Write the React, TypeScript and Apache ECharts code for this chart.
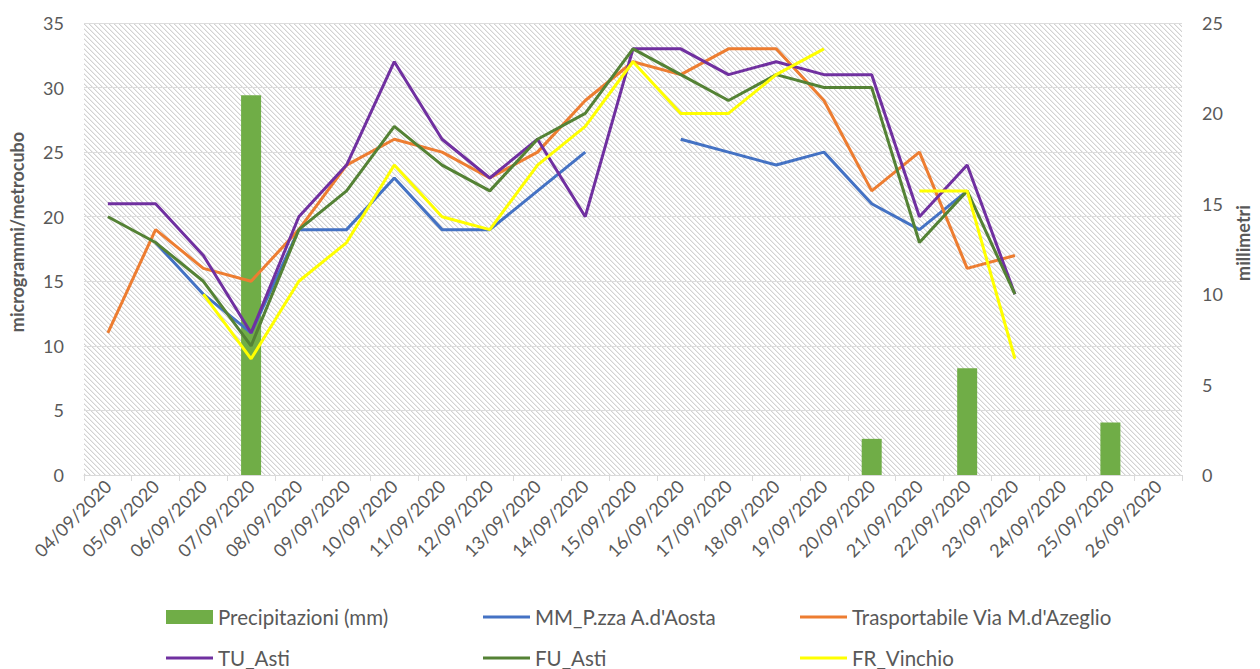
import React, { useEffect, useRef } from "react";
import * as echarts from "echarts";

const categories = [
  "04/09/2020", "05/09/2020", "06/09/2020", "07/09/2020", "08/09/2020", "09/09/2020",
  "10/09/2020", "11/09/2020", "12/09/2020", "13/09/2020", "14/09/2020", "15/09/2020",
  "16/09/2020", "17/09/2020", "18/09/2020", "19/09/2020", "20/09/2020", "21/09/2020",
  "22/09/2020", "23/09/2020", "24/09/2020", "25/09/2020", "26/09/2020",
];

const precipitazioni = [null, null, null, 21, null, null, null, null, null, null, null, null, null, null, null, null, 2, null, 5.9, null, null, 2.9, null];
const mmAosta = [null, 18, 14, 11, 19, 19, 23, 19, 19, 22, 25, null, 26, 25, 24, 25, 21, 19, 22, null, null, null, null];
const trasportabile = [11, 19, 16, 15, 19, 24, 26, 25, 23, 25, 29, 32, 31, 33, 33, 29, 22, 25, 16, 17, null, null, null];
const tuAsti = [21, 21, 17, 11, 20, 24, 32, 26, 23, 26, 20, 33, 33, 31, 32, 31, 31, 20, 24, 14, null, null, null];
const fuAsti = [20, 18, 15, 10, 19, 22, 27, 24, 22, 26, 28, 33, 31, 29, 31, 30, 30, 18, 22, 14, null, null, null];
const frVinchio = [null, null, 14, 9, 15, 18, 24, 20, 19, 24, 27, 32, 28, 28, 31, 33, null, 22, 22, 9, null, null, null];

const leftTicks = { min: 0, max: 35, interval: 5 };
const rightTicks = { min: 0, max: 25, interval: 5 };

function makePattern() {
  const size = 5;
  const c = document.createElement("canvas");
  c.width = size;
  c.height = size;
  const ctx = c.getContext("2d")!;
  ctx.fillStyle = "#ffffff";
  ctx.fillRect(0, 0, size, size);
  for (let i = 0; i < size; i++) {
    ctx.fillStyle = "#d2d2d2";
    ctx.fillRect(i, i, 1, 1);
    ctx.fillStyle = "#ececec";
    ctx.fillRect((i + 1) % size, i, 1, 1);
  }
  return { image: c, repeat: "repeat" };
}

export default function App() {
  const ref = useRef<HTMLDivElement>(null);
  useEffect(() => {
    if (!ref.current) return;
    const chart = echarts.init(ref.current, null, { renderer: "svg" });
    const textColor = "#595959";
    const font = "Lato";
    const lineSeries = (name: string, data: any[], color: string) => ({
      name,
      type: "line",
      data,
      yAxisIndex: 0,
      symbol: "none",
      connectNulls: false,
      lineStyle: { color, width: 3 },
      itemStyle: { color },
    });
    const legendItem = (name: string, left: number, top: number, isBar: boolean) => ({
      orient: "horizontal",
      left,
      top,
      padding: 0,
      icon: "rect",
      itemWidth: 47,
      itemHeight: isBar ? 14 : 3,
      data: [name],
      textStyle: { fontSize: 20.5, color: textColor, fontFamily: font, lineHeight: 22 },
    });
    chart.setOption({
      animation: false,
      textStyle: { fontFamily: font },
      grid: {
        left: 83,
        right: 72,
        top: 23,
        bottom: 194,
        show: true,
        backgroundColor: makePattern(),
        borderWidth: 0,
      },
      legend: [
        legendItem("Precipitazioni (mm)", 166, 606, true),
        legendItem("MM_P.zza A.d'Aosta", 483, 606, false),
        legendItem("Trasportabile Via M.d'Azeglio", 800, 606, false),
        legendItem("TU_Asti", 166, 647, false),
        legendItem("FU_Asti", 483, 647, false),
        legendItem("FR_Vinchio", 800, 647, false),
      ],
      xAxis: {
        type: "category",
        data: categories,
        boundaryGap: true,
        axisLine: { lineStyle: { color: "#d9d9d9", width: 1 } },
        axisTick: { show: true, length: 6, lineStyle: { color: "#d9d9d9" } },
        axisLabel: { rotate: 45, interval: 0, fontSize: 18, color: textColor, margin: 8, fontFamily: font },
        splitLine: { show: false },
      },
      yAxis: [
        {
          type: "value",
          ...leftTicks,
          name: "microgrammi/metrocubo",
          nameLocation: "middle",
          nameGap: 58,
          nameRotate: 90,
          nameTextStyle: { fontSize: 18, fontWeight: "bold", color: textColor, fontFamily: font, padding: [0, 0, 0, 34] },
          axisLabel: { fontSize: 18, color: textColor, margin: 20, fontFamily: font },
          axisLine: { show: false },
          axisTick: { show: false },
          splitLine: { lineStyle: { color: "#dcdcdc", width: 1 } },
        },
        {
          type: "value",
          ...rightTicks,
          position: "right",
          name: "millimetri",
          nameLocation: "middle",
          nameGap: 52,
          nameRotate: 90,
          nameTextStyle: { fontSize: 18, fontWeight: "bold", color: textColor, fontFamily: font, padding: [0, 0, 0, 12] },
          axisLabel: { fontSize: 18, color: textColor, margin: 20, fontFamily: font },
          axisLine: { show: false },
          axisTick: { show: false },
          splitLine: { show: false },
        },
      ],
      series: [
        {
          name: "Precipitazioni (mm)",
          type: "bar",
          data: precipitazioni,
          yAxisIndex: 1,
          barWidth: 20,
          itemStyle: { color: "#70AD47" },
        },
        lineSeries("MM_P.zza A.d'Aosta", mmAosta, "#4472C4"),
        lineSeries("Trasportabile Via M.d'Azeglio", trasportabile, "#ED7D31"),
        lineSeries("TU_Asti", tuAsti, "#7030A0"),
        lineSeries("FU_Asti", fuAsti, "#548235"),
        lineSeries("FR_Vinchio", frVinchio, "#FFFF00"),
      ],
    });
    return () => chart.dispose();
  }, []);
  return <div ref={ref} style={{ width: 1260, height: 669, position: "absolute", left: 0, top: 0 }} />;
}
